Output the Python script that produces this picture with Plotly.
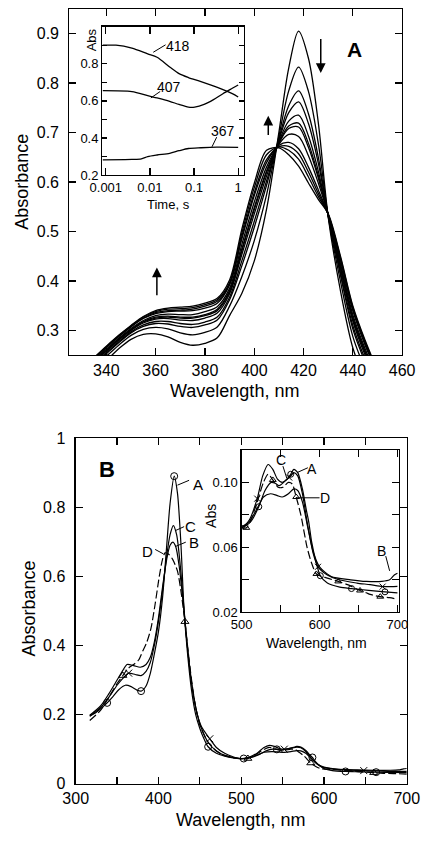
import math
import plotly.graph_objects as go

FONT = "Liberation Sans, Arial, sans-serif"

# ---------------- Panel A : spectra (Abs vs wavelength) ----------------
wl_a = [335, 340, 345, 350, 355, 360, 365, 370, 375, 380, 385, 390, 395, 400, 405,
        410, 414, 418, 422, 426, 430, 435, 440, 445, 450]
spec_a01 = [0.225, 0.240, 0.263, 0.282, 0.292, 0.293, 0.287, 0.276, 0.270, 0.274, 0.285, 0.330, 0.375, 0.440, 0.545, 0.700, 0.830, 0.905, 0.850, 0.720, 0.530, 0.380, 0.265, 0.200, 0.150]
spec_a02 = [0.230, 0.248, 0.270, 0.290, 0.302, 0.306, 0.303, 0.295, 0.291, 0.296, 0.307, 0.349, 0.409, 0.481, 0.574, 0.692, 0.784, 0.832, 0.783, 0.678, 0.531, 0.399, 0.288, 0.222, 0.169]
spec_a03 = [0.234, 0.253, 0.275, 0.295, 0.308, 0.314, 0.313, 0.308, 0.306, 0.311, 0.321, 0.362, 0.431, 0.508, 0.593, 0.687, 0.754, 0.784, 0.738, 0.650, 0.532, 0.412, 0.303, 0.236, 0.182]
spec_a04 = [0.236, 0.255, 0.277, 0.297, 0.311, 0.318, 0.318, 0.314, 0.312, 0.317, 0.327, 0.367, 0.441, 0.520, 0.602, 0.684, 0.740, 0.762, 0.718, 0.638, 0.533, 0.417, 0.310, 0.242, 0.187]
spec_a05 = [0.238, 0.258, 0.280, 0.300, 0.315, 0.323, 0.324, 0.321, 0.320, 0.325, 0.335, 0.374, 0.454, 0.535, 0.612, 0.681, 0.723, 0.735, 0.693, 0.622, 0.533, 0.424, 0.319, 0.250, 0.194]
spec_a06 = [0.239, 0.259, 0.282, 0.301, 0.317, 0.325, 0.327, 0.325, 0.325, 0.330, 0.340, 0.378, 0.461, 0.544, 0.619, 0.679, 0.713, 0.719, 0.678, 0.613, 0.534, 0.428, 0.324, 0.255, 0.198]
spec_a07 = [0.239, 0.260, 0.282, 0.302, 0.318, 0.327, 0.329, 0.327, 0.327, 0.332, 0.343, 0.380, 0.465, 0.548, 0.622, 0.678, 0.708, 0.711, 0.670, 0.608, 0.534, 0.430, 0.326, 0.258, 0.200]
spec_a08 = [0.241, 0.262, 0.284, 0.304, 0.320, 0.330, 0.333, 0.332, 0.332, 0.338, 0.348, 0.385, 0.474, 0.559, 0.630, 0.676, 0.696, 0.692, 0.653, 0.598, 0.534, 0.435, 0.332, 0.263, 0.205]
spec_a09 = [0.243, 0.265, 0.287, 0.307, 0.324, 0.334, 0.338, 0.339, 0.340, 0.345, 0.355, 0.392, 0.485, 0.572, 0.639, 0.674, 0.680, 0.667, 0.630, 0.584, 0.534, 0.442, 0.340, 0.270, 0.212]
spec_a10 = [0.243, 0.266, 0.288, 0.308, 0.325, 0.336, 0.340, 0.341, 0.343, 0.349, 0.359, 0.394, 0.490, 0.578, 0.645, 0.671, 0.672, 0.657, 0.620, 0.577, 0.535, 0.444, 0.343, 0.274, 0.214]
spec_a11 = [0.244, 0.267, 0.289, 0.309, 0.327, 0.338, 0.343, 0.344, 0.346, 0.352, 0.362, 0.397, 0.497, 0.588, 0.655, 0.671, 0.664, 0.646, 0.610, 0.571, 0.535, 0.447, 0.347, 0.277, 0.217]
spec_a12 = [0.245, 0.268, 0.290, 0.310, 0.328, 0.340, 0.345, 0.347, 0.349, 0.355, 0.365, 0.402, 0.505, 0.597, 0.664, 0.669, 0.655, 0.632, 0.598, 0.565, 0.536, 0.450, 0.350, 0.280, 0.220]
spectra_a = [spec_a01, spec_a02, spec_a03, spec_a04, spec_a05, spec_a06,
             spec_a07, spec_a08, spec_a09, spec_a10, spec_a11, spec_a12]

# ---------------- Panel A inset : kinetic traces ----------------
t_418 = [0.00085, 0.0017, 0.0039, 0.0089, 0.0145, 0.028, 0.0457, 0.0746, 0.1435, 0.326, 0.736, 1.0]
abs_418 = [0.900, 0.900, 0.884, 0.853, 0.835, 0.783, 0.747, 0.726, 0.704, 0.674, 0.639, 0.621]
t_407 = [0.00085, 0.0039, 0.0089, 0.0145, 0.028, 0.0457, 0.0746, 0.1035, 0.169, 0.276, 0.451, 0.736, 1.0]
abs_407 = [0.655, 0.650, 0.628, 0.616, 0.598, 0.581, 0.567, 0.567, 0.581, 0.607, 0.639, 0.668, 0.686]
t_367 = [0.00085, 0.0039, 0.0064, 0.0089, 0.0145, 0.028, 0.0457, 0.0746, 0.1435, 0.326, 1.0]
abs_367 = [0.283, 0.285, 0.288, 0.300, 0.309, 0.318, 0.332, 0.344, 0.348, 0.351, 0.350]

# ---------------- Panel B : spectra A-D ----------------
wl_curveA = [317, 325, 338, 345, 352, 360, 367, 374, 379, 385, 390, 395, 400, 405, 410, 414, 419, 423, 427, 431,
             435, 440, 445, 450, 455, 460, 470, 480, 490, 503, 512, 522, 530, 538, 543, 548, 556, 563, 567, 572,
             578, 583, 586, 590, 595, 601, 610, 626, 641, 663, 684, 700]
abs_curveA = [0.196, 0.207, 0.234, 0.252, 0.272, 0.285, 0.281, 0.271, 0.268, 0.283, 0.318, 0.375, 0.44, 0.54, 0.69,
              0.81, 0.89, 0.84, 0.70, 0.50, 0.38, 0.27, 0.20, 0.16, 0.13, 0.107, 0.088, 0.080, 0.075, 0.073, 0.076,
              0.085, 0.095, 0.100, 0.0995, 0.098, 0.101, 0.105, 0.108, 0.106, 0.096, 0.083, 0.076, 0.063, 0.052,
              0.0425, 0.038, 0.0355, 0.0346, 0.0335, 0.0326, 0.032]
wl_curveB = [317, 330, 340, 350, 357, 362, 370, 378, 385, 390, 395, 400, 405, 410, 414, 417.5, 421, 425, 430, 434,
             438, 442, 447, 452, 460, 470, 480, 490, 500, 510, 520, 528, 537, 545, 552, 560, 567, 572, 578, 585,
             592, 600, 615, 640, 660, 680, 690, 696, 700]
abs_curveB = [0.198, 0.225, 0.26, 0.30, 0.328, 0.345, 0.342, 0.337, 0.345, 0.365, 0.41, 0.48, 0.57, 0.65, 0.69,
              0.699, 0.685, 0.63, 0.52, 0.42, 0.33, 0.26, 0.20, 0.16, 0.12, 0.095, 0.082, 0.076, 0.073, 0.076,
              0.084, 0.091, 0.093, 0.092, 0.091, 0.093, 0.096, 0.095, 0.088, 0.072, 0.057, 0.048, 0.042, 0.040,
              0.039, 0.039, 0.040, 0.043, 0.044]
wl_curveC = [317, 330, 340, 350, 357, 364, 372, 379, 385, 390, 395, 400, 405, 410, 414, 418, 422, 426, 430, 434,
             438, 442, 447, 452, 462, 470, 480, 490, 500, 510, 520, 527, 534, 540, 546, 552, 561, 567, 572, 578,
             585, 592, 598, 610, 625, 648, 665, 681, 700]
abs_curveC = [0.195, 0.22, 0.25, 0.285, 0.305, 0.32, 0.316, 0.313, 0.325, 0.35, 0.40, 0.47, 0.56, 0.66, 0.72,
              0.747, 0.72, 0.64, 0.53, 0.42, 0.33, 0.26, 0.20, 0.165, 0.13, 0.105, 0.088, 0.078, 0.072, 0.077,
              0.090, 0.104, 0.111, 0.108, 0.102, 0.100, 0.103, 0.106, 0.104, 0.093, 0.073, 0.056, 0.048, 0.043,
              0.040, 0.038, 0.037, 0.0358, 0.036]
wl_curveD = [317, 330, 340, 350, 357, 363, 370, 376, 381, 386, 391, 396, 401, 405, 408, 412, 417, 423, 427, 432,
             436, 440, 445, 450, 460, 470, 480, 490, 500, 506, 508, 512, 520, 528, 534, 540, 547, 553, 560, 565,
             570, 576, 584, 590, 596, 610, 624, 636, 652, 660, 665, 678, 690, 700]
abs_curveD = [0.183, 0.212, 0.25, 0.29, 0.313, 0.333, 0.345, 0.358, 0.384, 0.41, 0.45, 0.52, 0.60, 0.65, 0.668,
              0.665, 0.65, 0.615, 0.56, 0.469, 0.38, 0.30, 0.22, 0.17, 0.12, 0.095, 0.082, 0.075, 0.072, 0.072,
              0.073, 0.077, 0.088, 0.100, 0.105, 0.1015, 0.097, 0.097, 0.100, 0.099, 0.091, 0.080, 0.060, 0.050,
              0.0436, 0.041, 0.039, 0.037, 0.0334, 0.032, 0.031, 0.0296, 0.029, 0.028]

# wavelengths that carry a symbol (main panel / inset)
marks_main = {"A": [338, 379, 419, 460, 503, 543, 586, 626, 663], "B": [],
              "C": [364, 462, 552, 648], "D": [357, 432, 508, 584, 660]}
marks_inset = {"A": [522, 563, 601, 641, 684], "B": [],
               "C": [520, 561, 598, 681], "D": [506, 540, 570, 596, 624, 652, 678]}

curves_b = {"A": (wl_curveA, abs_curveA), "B": (wl_curveB, abs_curveB),
            "C": (wl_curveC, abs_curveC), "D": (wl_curveD, abs_curveD)}
style_b = {"A": ("solid", "circle-open"), "B": ("solid", None),
           "C": ("solid", "x-thin-open"), "D": ("8px,3px", "triangle-up-open")}

fig = go.Figure()

# Panel A main curves
for s in spectra_a:
    fig.add_trace(go.Scatter(x=wl_a, y=s, mode="lines", xaxis="x", yaxis="y",
                             line=dict(color="black", width=1.3, shape="spline", smoothing=0.9),
                             showlegend=False, hoverinfo="skip"))

# Panel A inset curves
for tt, aa in [(t_418, abs_418), (t_407, abs_407), (t_367, abs_367)]:
    fig.add_trace(go.Scatter(x=tt, y=aa, mode="lines", xaxis="x2", yaxis="y2",
                             line=dict(color="black", width=1.3, shape="spline", smoothing=0.8),
                             showlegend=False, hoverinfo="skip"))

# Panel B main + inset curves
for key, (xs, ys) in curves_b.items():
    dash, sym = style_b[key]
    for xa, ya, marks, msize in [("x3", "y3", marks_main[key], 7), ("x4", "y4", marks_inset[key], 6)]:
        fig.add_trace(go.Scatter(x=xs, y=ys, mode="lines", xaxis=xa, yaxis=ya,
                                 line=dict(color="black", width=1.2, dash=dash, shape="spline", smoothing=0.7),
                                 showlegend=False, hoverinfo="skip"))
        if sym and marks:
            mx = [x for x in xs if x in marks]
            my = [y for x, y in zip(xs, ys) if x in marks]
            fig.add_trace(go.Scatter(x=mx, y=my, mode="markers", xaxis=xa, yaxis=ya,
                                     marker=dict(symbol=sym, size=msize, color="black",
                                                 line=dict(color="black", width=1)),
                                     showlegend=False, hoverinfo="skip", cliponaxis=False))

# ---------------- label leader lines ----------------
leaders = [
    ("x2", "y2", [0.0119, 0.0226], [0.862, 0.902]),
    ("x2", "y2", [0.0105, 0.0171], [0.616, 0.651]),
    ("x2", "y2", [0.255, 0.326], [0.353, 0.405]),
    ("x3", "y3", [423, 437], [0.864, 0.878]),
    ("x3", "y3", [420, 431], [0.732, 0.744]),
    ("x3", "y3", [420, 433], [0.686, 0.699]),
    ("x3", "y3", [396, 406], [0.678, 0.665]),
    ("x4", "y4", [553, 558], [0.110, 0.1025]),
    ("x4", "y4", [571, 585], [0.106, 0.109]),
    ("x4", "y4", [570, 600], [0.0905, 0.0905]),
    ("x4", "y4", [685, 690], [0.0546, 0.0455]),
]
for xa, ya, lx, ly in leaders:
    fig.add_trace(go.Scatter(x=lx, y=ly, mode="lines", xaxis=xa, yaxis=ya,
                             line=dict(color="black", width=1), showlegend=False, hoverinfo="skip"))

W, H = 432, 843
def px(xp): return xp / W
def py(yp): return 1 - yp / H

axis_common = dict(showline=True, linecolor="black", linewidth=1.2, mirror="ticks",
                   ticks="inside", ticklen=7, tickwidth=1.2, tickcolor="black",
                   showgrid=False, zeroline=False, fixedrange=True)

big = dict(family=FONT, size=16, color="black")
small = dict(family=FONT, size=13, color="black")

fig.update_layout(
    width=W, height=H, margin=dict(l=0, r=0, t=0, b=0),
    paper_bgcolor="white", plot_bgcolor="white", hovermode=False,
    xaxis=dict(domain=[px(60), px(414)], range=[325, 460], anchor="y",
               tickvals=[340, 360, 380, 400, 420, 440, 460], tickfont=big, **axis_common),
    yaxis=dict(domain=[py(354.3), py(0.8)], range=[0.25, 0.95], anchor="x",
               tickvals=[0.3, 0.4, 0.5, 0.6, 0.7, 0.8, 0.9], tickfont=big,
               ticklabelstandoff=6, **axis_common),
    xaxis2=dict(domain=[px(95), px(245.7)], type="log", range=[-3.08, 0.13], anchor="y2",
                tickvals=[0.001, 0.01, 0.1, 1], ticktext=["0.001", "0.01", "0.1", "1"],
                tickfont=small, **axis_common),
    yaxis2=dict(domain=[py(170.7), py(19)], range=[0.2, 1.0], anchor="x2",
                tickvals=[0.2, 0.3, 0.4, 0.5, 0.6, 0.7, 0.8, 0.9, 1.0],
                ticktext=["0.2", "", "0.4", "", "0.6", "", "0.8", "", ""],
                tickfont=small, ticklen=5, **{k: v for k, v in axis_common.items() if k != "ticklen"}),
    xaxis3=dict(domain=[px(66.7), px(419)], range=[300, 700], anchor="y3",
                tickvals=[300, 350, 400, 450, 500, 550, 600, 650, 700],
                ticktext=["300", "", "400", "", "500", "", "600", "", "700"], tickfont=big, **axis_common),
    yaxis3=dict(domain=[py(791.7), py(439)], range=[0, 1], anchor="x3",
                tickvals=[0, 0.2, 0.4, 0.6, 0.8, 1.0], ticktext=["0", "0.2", "0.4", "0.6", "0.8", "1"],
                tickfont=big, ticklabelstandoff=6, **axis_common),
    xaxis4=dict(domain=[px(243.3), px(410.7)], range=[500, 702], anchor="y4",
                tickvals=[500, 550, 600, 650, 700], ticktext=["500", "", "600", "", "700"],
                tickfont=small, **axis_common),
    yaxis4=dict(domain=[py(616.7), py(451)], range=[0.02, 0.12], anchor="x4",
                tickvals=[0.02, 0.04, 0.06, 0.08, 0.10, 0.12],
                ticktext=["0.02", "", "0.06", "", "0.10", ""], tickfont=small, **axis_common),
)

# ---------------- text ----------------
ann = []
def paper_text(text, xp, yp, size, angle=0, bold=False):
    ann.append(dict(text=("<b>%s</b>" % text) if bold else text, x=px(xp), y=py(yp),
                    xref="paper", yref="paper", showarrow=False, textangle=angle,
                    xanchor="center", yanchor="middle", font=dict(family=FONT, size=size, color="black")))

paper_text("Absorbance", 10, 177, 18, angle=-90)
paper_text("Wavelength, nm", 236, 390.5, 18)
paper_text("Abs", 83, 33, 13, angle=-90)
paper_text("Time, s", 165, 201, 13)
paper_text("Absorbance", 17, 613, 18, angle=-90)
paper_text("Wavelength, nm", 242, 829, 18)
paper_text("Abs", 210, 518, 14, angle=-90)
paper_text("Wavelength, nm", 323, 648, 14)

def data_text(text, xa, ya, x, y, size, bold=False, xanchor="center"):
    ann.append(dict(text=("<b>%s</b>" % text) if bold else text, x=x, y=y, xref=xa, yref=ya,
                    showarrow=False, xanchor=xanchor, yanchor="middle",
                    font=dict(family=FONT, size=size, color="black")))

data_text("A", "x", "y", 440.5, 0.868, 21, bold=True)
data_text("418", "x2", "y2", math.log10(0.0436), 0.893, 14)
data_text("407", "x2", "y2", math.log10(0.0267), 0.677, 14)
data_text("367", "x2", "y2", math.log10(0.45), 0.44, 14)
data_text("B", "x3", "y3", 337.8, 0.91, 22, bold=True)
data_text("A", "x3", "y3", 447.7, 0.866, 15)
data_text("C", "x3", "y3", 438.5, 0.744, 15)
data_text("B", "x3", "y3", 443, 0.699, 15)
data_text("D", "x3", "y3", 386.5, 0.673, 15)
data_text("C", "x4", "y4", 550, 0.1135, 14)
data_text("A", "x4", "y4", 590.5, 0.108, 14)
data_text("D", "x4", "y4", 606.5, 0.0905, 14)
data_text("B", "x4", "y4", 680, 0.058, 14)

arrows = [(427, 0.820, 0.892), (405.7, 0.734, 0.692), (360.5, 0.427, 0.368)]
for xa_, yh, yt in arrows:
    ann.append(dict(x=xa_, y=yh, ax=xa_, ay=yt, xref="x", yref="y", axref="x", ayref="y",
                    showarrow=True, arrowhead=2, arrowsize=1.3, arrowwidth=1.5, arrowcolor="black", text=""))

fig.update_layout(annotations=ann)
fig.write_html("out.html", config={"displayModeBar": False, "staticPlot": True},
               post_script="document.body.style.margin='0px';document.body.style.overflow='hidden';")
